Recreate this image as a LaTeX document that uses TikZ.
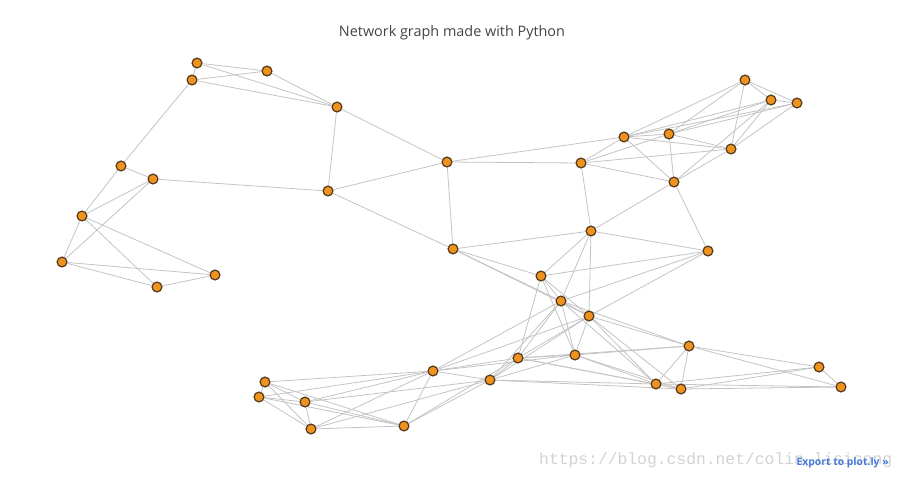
\documentclass[tikz,border=0pt]{standalone}
\usepackage{fontspec}
\setmainfont{Open Sans}
\setmonofont{Liberation Mono}
\usetikzlibrary{backgrounds}
\definecolor{nodeorange}{RGB}{240,146,30}
\definecolor{nodeborder}{RGB}{85,60,30}
\definecolor{linkgray}{RGB}{195,195,195}
\definecolor{titlegray}{RGB}{68,68,68}
\definecolor{markgray}{RGB}{210,210,210}
\definecolor{plotlyblue}{RGB}{68,122,219}
\tikzset{
  netnode/.style={circle, draw=nodeborder, fill=nodeorange, line width=0.7pt,
                  minimum size=5.6pt, inner sep=0pt},
  netlink/.style={draw=linkgray, line width=0.45pt},
  nettitle/.style={font=\fontsize{8.2}{10}\selectfont, text=titlegray},
  netmark/.style={anchor=west, font=\ttfamily\fontsize{9.3}{11}\selectfont,
                  text=markgray},
  netexport/.style={anchor=east, font=\bfseries\fontsize{5.9}{7}\selectfont,
                    text=plotlyblue, inner sep=0pt}
}

\begin{document}
\begin{tikzpicture}[x=0.02cm, y=-0.02cm]
  \useasboundingbox (0,0) rectangle (907,479);
  \node[nettitle] (title) at (452,33) {Network graph made with Python};
  \foreach \n/\x/\y in {1/197/63, 2/192/80, 3/267/71, 4/337/107, 5/121/166,
      6/153/179, 7/82/216, 8/62/262, 9/157/287, 10/215/275, 11/328/191,
      12/447/162, 13/581/163, 14/453/249, 15/591/231, 16/541/276,
      17/624/137, 18/745/80, 19/771/100, 20/797/103, 21/669/134,
      22/731/149, 23/674/182, 24/708/251, 25/561/301, 26/589/316,
      27/689/346, 28/575/355, 29/518/358, 30/433/371, 31/490/380,
      32/656/384, 33/681/389, 34/265/382, 35/259/397, 36/305/402,
      37/311/429, 38/404/426, 39/819/367, 40/841/387} {
    \node[netnode] (v\n) at (\x,\y) {};
  }
  \begin{scope}[on background layer]
    \foreach \a/\b in {1/2, 1/3, 1/4, 2/3, 2/4, 2/5, 3/4, 4/11, 4/12,
        5/6, 5/7, 6/7, 6/8, 6/11, 7/8, 7/9, 7/10, 8/9, 8/10, 9/10,
        11/12, 11/14, 12/13, 12/14, 12/17,
        13/17, 13/21, 13/22, 13/23, 13/15,
        14/15, 14/16, 14/25, 14/26,
        15/16, 15/23, 15/24, 15/25, 15/26,
        16/25, 16/26, 16/24, 16/29, 16/28,
        17/21, 17/22, 17/23, 17/18, 17/19, 17/20,
        21/22, 21/23, 21/18, 21/19, 21/20,
        22/23, 22/18, 22/19, 22/20, 23/24, 23/19,
        18/19, 18/20, 19/20, 24/25, 24/26,
        25/26, 25/28, 25/29, 25/27, 25/32, 25/31, 25/30,
        26/27, 26/28, 26/29, 26/31, 26/30, 26/32, 26/33,
        27/28, 27/29, 27/32, 27/33, 27/39, 27/40,
        28/29, 28/31, 28/32, 28/33, 28/30,
        29/30, 29/31, 29/32, 29/33, 29/38,
        30/31, 30/38, 30/37, 30/36, 30/34, 30/35,
        31/32, 31/33, 31/38, 31/36, 31/37,
        32/33, 32/39, 32/40, 33/39, 33/40, 39/40,
        34/35, 34/36, 34/37, 34/38, 35/36, 35/37, 35/38,
        36/37, 36/38, 37/38} {
      \draw[netlink] (v\a) -- (v\b);
    }
  \end{scope}
  \node[netmark] (mark) at (533,460) {https://blog.csdn.net/colin\_lisicong};
  \node[netexport] (export) at (889,463) {Export to plot.ly »};
\end{tikzpicture}
\end{document}
